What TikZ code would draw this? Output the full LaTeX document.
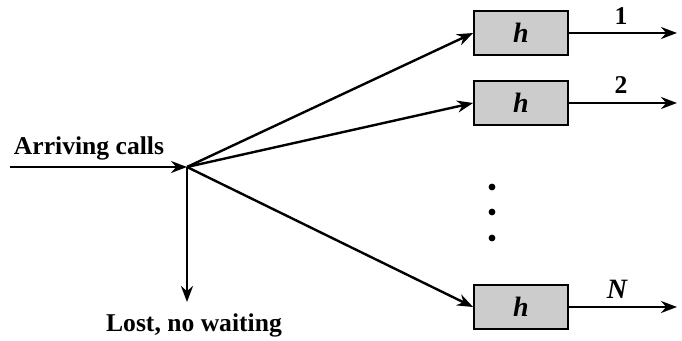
\documentclass[tikz,border=0pt]{standalone}
\usepackage{fontspec}
\setmainfont{Liberation Serif}
\usetikzlibrary{arrows.meta}
\begin{document}
\begin{tikzpicture}[x=0.5pt,y=-0.5pt,
  line width=1.2pt,
  arr/.style={-{Stealth[length=8pt,width=6pt]}},
  srv/.style={draw,line width=0.9pt,fill=gray!40,minimum width=47pt,minimum height=22pt,inner sep=0pt,font=\fontsize{14}{16}\selectfont\bfseries\itshape},
  lbl/.style={font=\fontsize{12.8}{15}\selectfont\bfseries,inner sep=0pt},
  dot/.style={circle,fill=black,inner sep=0pt,minimum size=3.4pt}]
\useasboundingbox (0,0) rectangle (682,341);
\coordinate (in) at (10,167);
\coordinate (sp) at (187,167);
\coordinate (lost) at (187,302);
\node[srv] (h1) at (521,33) {h};
\node[srv] (h2) at (521,103) {h};
\node[srv] (hN) at (521,307) {h};
\coordinate (o1) at (677,33);
\coordinate (o2) at (677,103);
\coordinate (oN) at (677,307);
\node[dot] (d1) at (492,187) {};
\node[dot] (d2) at (492,212) {};
\node[dot] (d3) at (492,238) {};
\node[lbl] (arrv) at (89,148) {Arriving calls};
\node[lbl] (lostl) at (194,325) {Lost, no waiting};
\node[lbl] (l1) at (621,16) {1};
\node[lbl] (l2) at (621,85) {2};
\node[lbl,font=\fontsize{14}{16}\selectfont\bfseries\itshape] (lN) at (617,289) {N};
\draw[arr] (in) -- (sp);
\draw[arr] (sp) -- (lost);
\draw[arr] (sp) -- (h1.west);
\draw[arr] (sp) -- (h2.west);
\draw[arr] (sp) -- (hN.west);
\draw[arr] (h1.east) -- (o1);
\draw[arr] (h2.east) -- (o2);
\draw[arr] (hN.east) -- (oN);
\end{tikzpicture}
\end{document}
